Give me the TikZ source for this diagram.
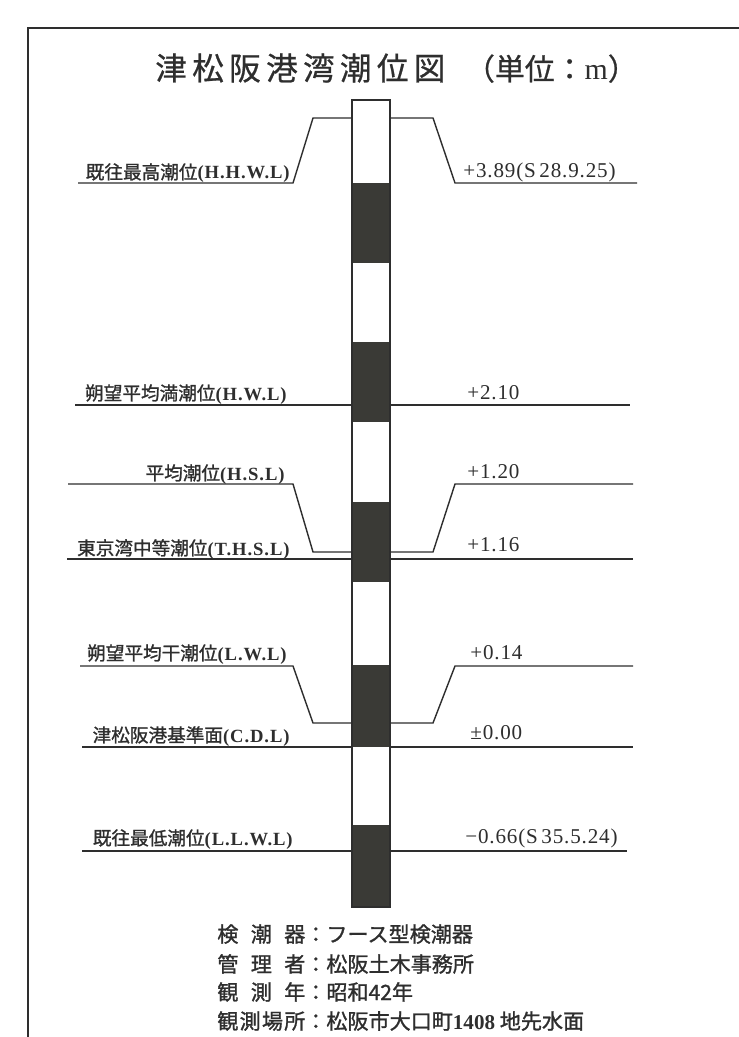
\documentclass[tikz,border=0pt]{standalone}
\usepackage{fontspec}
\newfontfamily\jpfont{Noto Sans CJK JP}[FakeBold=1.2]
\newfontfamily\titlefont{Noto Sans CJK JP}[FakeBold=0.7]
\newfontfamily\serfont{Liberation Serif}
\newfontfamily\abbrfont{Liberation Serif}[LetterSpace=5]
\newfontfamily\valfont{Liberation Serif}[LetterSpace=4]
\definecolor{ink}{HTML}{2E2E2E}
\definecolor{band}{HTML}{3A3A36}
\newcommand{\abbr}[1]{{\abbrfont\bfseries (#1)}}
\newcommand{\tsp}{\kern0.106cm}
\newcommand{\myStraightLevel}[4]{%%
  %% #1 name, #2 height, #3 left end, #4 right end.
  \coordinate (#1L) at (#3,#2);
  \coordinate (#1PL) at (\poleL,#2);
  \coordinate (#1PR) at (\poleR,#2);
  \coordinate (#1R) at (#4,#2);
  \draw[lineStyle] (#1L) -- (#1PL);
  \draw[lineStyle] (#1PR) -- (#1R);
}
\newcommand{\myBentLevel}[5]{%%
  %% #1 name, #2 height of the label line, #3 height at the staff,
  %% #4 left end, #5 right end.
  \coordinate (#1L) at (#4,#2);
  \coordinate (#1KL) at (\kneeL,#2);
  \coordinate (#1JL) at (\kneeLL,#3);
  \coordinate (#1PL) at (\poleL,#3);
  \coordinate (#1PR) at (\poleR,#3);
  \coordinate (#1JR) at (\kneeR,#3);
  \coordinate (#1KR) at (\kneeRR,#2);
  \coordinate (#1R) at (#5,#2);
  \draw[lineStyle] (#1L) -- (#1KL) -- (#1JL) -- (#1PL);
  \draw[lineStyle] (#1PR) -- (#1JR) -- (#1KR) -- (#1R);
}
\newcommand{\myPole}{%%
  %% The white staff with its black bands.
  \fill[white] (\poleL,\poleTop) rectangle (\poleR,\poleBottom);
  \fill[bandStyle] (\poleL,183) rectangle (\poleR,263);
  \fill[bandStyle] (\poleL,342) rectangle (\poleR,422);
  \fill[bandStyle] (\poleL,502) rectangle (\poleR,582);
  \fill[bandStyle] (\poleL,665) rectangle (\poleR,747);
  \fill[bandStyle] (\poleL,825) rectangle (\poleR,\poleBottom);
  \draw[poleStyle] (\poleL,\poleTop) rectangle (\poleR,\poleBottom);
}

\begin{document}
\begin{tikzpicture}[%%
  x=0.02cm,y=-0.02cm,
  lineStyle/.style={-,draw=ink,line width=0.8pt},
  frameStyle/.style={-,draw=ink,line width=1.4pt},
  poleStyle/.style={draw=ink,line width=1.1pt},
  bandStyle/.style={fill=band},
  labelStyle/.style={anchor=base east,inner sep=0pt,text=ink,
    font=\jpfont\fontsize{10.6}{12}\selectfont},
  valueStyle/.style={anchor=base west,inner sep=0pt,text=ink,
    font=\valfont\fontsize{12}{14}\selectfont},
  infoStyle/.style={anchor=base west,inner sep=0pt,text=ink,
    font=\jpfont\fontsize{12}{14}\selectfont}
]
%%
\useasboundingbox (0,0) rectangle (739,1037);
\fill[white] (0,0) rectangle (739,1037);
%%
%% The staff and the knees of the bent lines.
\pgfmathsetmacro{\poleL}{352}
\pgfmathsetmacro{\poleR}{390}
\pgfmathsetmacro{\poleTop}{100}
\pgfmathsetmacro{\poleBottom}{907}
\pgfmathsetmacro{\kneeL}{293}
\pgfmathsetmacro{\kneeLL}{313}
\pgfmathsetmacro{\kneeR}{433}
\pgfmathsetmacro{\kneeRR}{455}
%%
%% The frame, cut by the page at right and bottom.
\coordinate (frameBL) at (28,1045);
\coordinate (frameTL) at (28,28);
\coordinate (frameTR) at (745,28);
\draw[frameStyle] (frameBL) -- (frameTL) -- (frameTR);
%%
%% Title.
\node[anchor=base west,inner sep=0pt,text=ink,
  font=\titlefont\fontsize{18}{20}\selectfont] (title) at (155,80)
  {津\tsp 松\tsp 阪\tsp 港\tsp 湾\tsp 潮\tsp 位\tsp 図};
\node[anchor=base east,inner sep=0pt,text=ink,
  font=\titlefont\fontsize{17}{20}\selectfont] (unit) at (638,80)
  {（単位：{\serfont m}）};
%%
%% The levels.
\myBentLevel{hhwl}{183}{118}{78}{637}
\myStraightLevel{hwl}{405}{75}{630}
\myBentLevel{hsl}{484}{552}{68}{633}
\myStraightLevel{thsl}{559}{67}{633}
\myBentLevel{lwl}{666}{723}{80}{633}
\myStraightLevel{cdl}{747}{82}{633}
\myStraightLevel{llwl}{851}{82}{627}
\myPole
%%
%% Names of the levels.
\node[labelStyle] (hhwlText) at (290,179) {既往最高潮位\abbr{H.H.W.L}};
\node[labelStyle] (hwlText) at (287,400) {朔望平均満潮位\abbr{H.W.L}};
\node[labelStyle] (hslText) at (285,480) {平均潮位\abbr{H.S.L}};
\node[labelStyle] (thslText) at (290,555) {東京湾中等潮位\abbr{T.H.S.L}};
\node[labelStyle] (lwlText) at (287,660) {朔望平均干潮位\abbr{L.W.L}};
\node[labelStyle] (cdlText) at (290,742) {津松阪港基準面\abbr{C.D.L}};
\node[labelStyle] (llwlText) at (293,845) {既往最低潮位\abbr{L.L.W.L}};
%%
%% Heights of the levels.
\node[valueStyle] (hhwlValue) at (463,178) {+3.89(S\,28.9.25)};
\node[valueStyle] (hwlValue) at (467,399) {+2.10};
\node[valueStyle] (hslValue) at (467,478) {+1.20};
\node[valueStyle] (thslValue) at (467,551) {+1.16};
\node[valueStyle] (lwlValue) at (470,659) {+0.14};
\node[valueStyle] (cdlValue) at (470,739) {±0.00};
\node[valueStyle] (llwlValue) at (465,843) {−0.66(S\,35.5.24)};
%%
%% Notes below the staff.
\node[infoStyle] (info1) at (217,942)
  {\makebox[1.76cm][s]{検\hfill 潮\hfill 器}：フース型検潮器};
\node[infoStyle] (info2) at (217,972)
  {\makebox[1.76cm][s]{管\hfill 理\hfill 者}：松阪土木事務所};
\node[infoStyle] (info3) at (217,1000)
  {\makebox[1.76cm][s]{観\hfill 測\hfill 年}：昭和42年};
\node[infoStyle] (info4) at (217,1029)
  {\makebox[1.76cm][s]{観\hfill 測\hfill 場\hfill 所}：松阪市大口町{\serfont\bfseries 1408} 地先水面};
\end{tikzpicture}
\end{document}
